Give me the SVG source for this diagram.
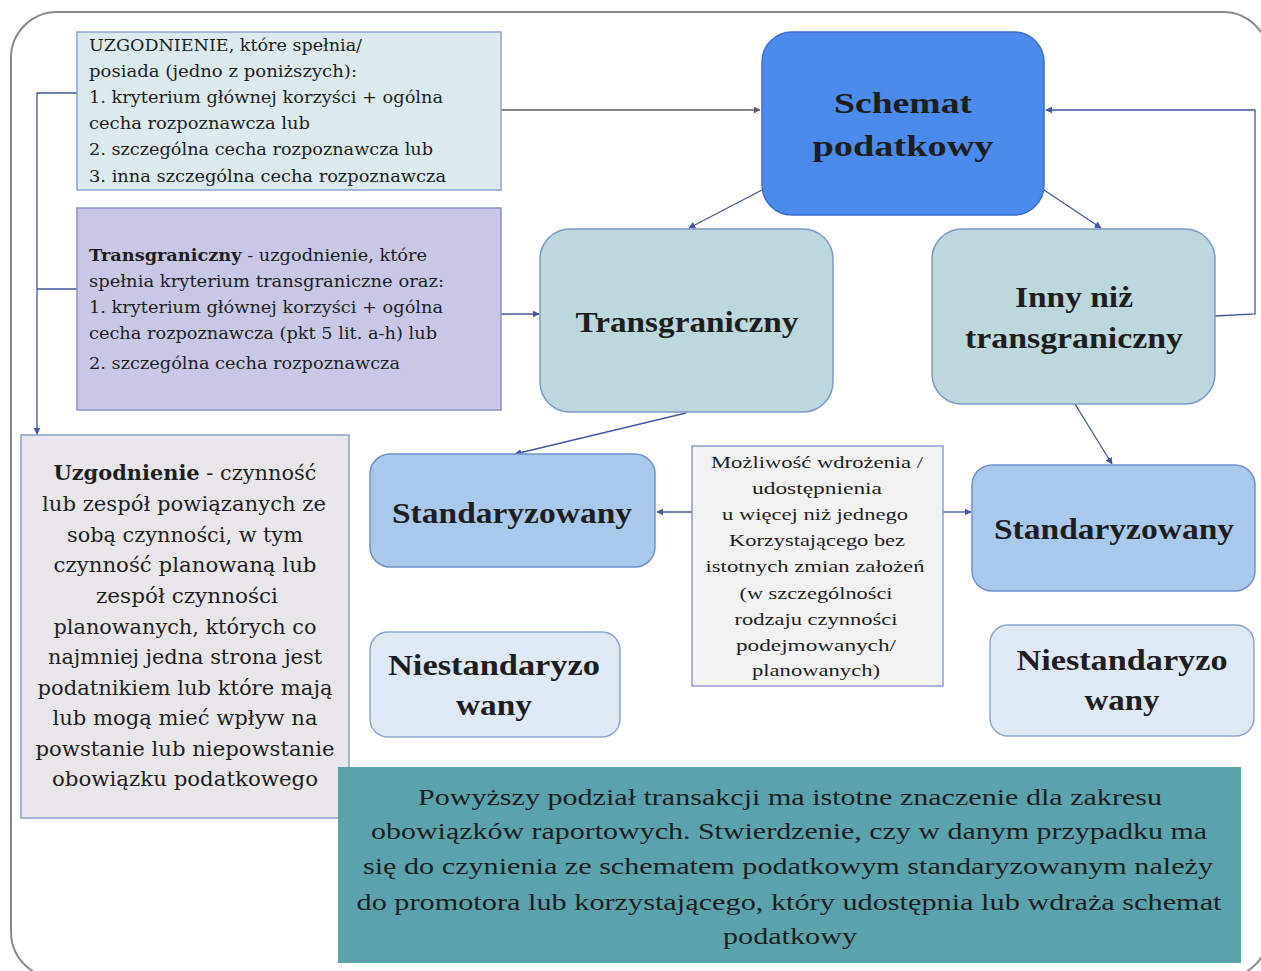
<svg xmlns="http://www.w3.org/2000/svg" width="1261" height="971" viewBox="0 0 1261 971">
<defs>
<marker id="ah" viewBox="0 0 10 10" refX="9" refY="5" markerWidth="7" markerHeight="7" orient="auto" markerUnits="userSpaceOnUse"><path d="M0,0 L10,5 L0,10 z" fill="#4257a0"/></marker>
<marker id="ahg" viewBox="0 0 10 10" refX="9" refY="5" markerWidth="7" markerHeight="7" orient="auto" markerUnits="userSpaceOnUse"><path d="M0,0 L10,5 L0,10 z" fill="#5d5a6e"/></marker>
</defs>
<style>
text{font-family:"DejaVu Serif","Liberation Serif",serif;fill:#1e1e1e}
.s{font-size:16px}
.m{font-size:20px;text-anchor:middle}
.c{font-family:"Liberation Serif",serif;font-size:17px;text-anchor:middle}
.big{font-family:"Liberation Serif",serif;font-weight:bold;font-size:30px;text-anchor:middle}
.bot{font-family:"Liberation Serif",serif;font-size:24px;text-anchor:middle}
.ln{fill:none;stroke:#4257a0;stroke-width:1.3}
</style>
<rect x="11" y="12" width="1258" height="966" rx="46" fill="#fff" stroke="#8a8a8a" stroke-width="2"/>

<g id="connectors">
<path class="ln" d="M501,110 L760,110" style="stroke:#5d5a6e" marker-end="url(#ahg)"/>
<path class="ln" d="M77,93 L37,93 L37,434" marker-end="url(#ah)"/>
<path class="ln" d="M77,289 L37,289"/>
<path class="ln" d="M501,314 L539,314" marker-end="url(#ah)"/>
<path class="ln" d="M762,190 L689,228" marker-end="url(#ah)"/>
<path class="ln" d="M1044,190 L1101,228" marker-end="url(#ah)"/>
<path class="ln" d="M1215,316 L1255,314 L1255,110 L1046,110" marker-end="url(#ah)"/>
<path class="ln" d="M686,413 L515,454" marker-end="url(#ah)"/>
<path class="ln" d="M1075,404 L1112,464" marker-end="url(#ah)"/>
<path class="ln" d="M692,512 L657,512" marker-end="url(#ah)"/>
<path class="ln" d="M943,512 L971,512" marker-end="url(#ah)"/>
</g>

<g id="boxA">
<rect x="77" y="32" width="424" height="158" fill="#dce9ed" stroke="#8fa3cd" stroke-width="1.5"/>
<text class="s" x="89" y="51" textLength="273" lengthAdjust="spacingAndGlyphs">UZGODNIENIE, które spełnia/</text>
<text class="s" x="89" y="77" textLength="268" lengthAdjust="spacingAndGlyphs">posiada (jedno z poniższych):</text>
<text class="s" x="89" y="103" textLength="354" lengthAdjust="spacingAndGlyphs">1. kryterium głównej korzyści + ogólna</text>
<text class="s" x="89" y="129" textLength="221" lengthAdjust="spacingAndGlyphs">cecha rozpoznawcza lub</text>
<text class="s" x="89" y="155" textLength="344" lengthAdjust="spacingAndGlyphs">2. szczególna cecha rozpoznawcza lub</text>
<text class="s" x="89" y="182" textLength="357" lengthAdjust="spacingAndGlyphs">3. inna szczególna cecha rozpoznawcza</text>
</g>

<g id="boxB">
<rect x="77" y="208" width="424" height="202" fill="#c8c8e6" stroke="#8a93c0" stroke-width="1.5"/>
<text class="s" x="89" y="261" textLength="338" lengthAdjust="spacingAndGlyphs"><tspan font-weight="bold">Transgraniczny</tspan> - uzgodnienie, które</text>
<text class="s" x="89" y="287" textLength="355" lengthAdjust="spacingAndGlyphs">spełnia kryterium transgraniczne oraz:</text>
<text class="s" x="89" y="313" textLength="354" lengthAdjust="spacingAndGlyphs">1. kryterium głównej korzyści + ogólna</text>
<text class="s" x="89" y="339" textLength="348" lengthAdjust="spacingAndGlyphs">cecha rozpoznawcza (pkt 5 lit. a-h) lub</text>
<text class="s" x="89" y="369" textLength="311" lengthAdjust="spacingAndGlyphs">2. szczególna cecha rozpoznawcza</text>
</g>

<g id="schemat">
<rect x="762" y="32" width="282" height="183" rx="30" fill="#4a8bec" stroke="#3b6fc9" stroke-width="1.5"/>
<text class="big" x="903" y="113" font-size="32" textLength="138" lengthAdjust="spacingAndGlyphs">Schemat</text>
<text class="big" x="903" y="156" font-size="32" textLength="181" lengthAdjust="spacingAndGlyphs">podatkowy</text>
</g>

<g id="transgraniczny">
<rect x="540" y="229" width="293" height="183" rx="30" fill="#bcd8dc" stroke="#7d98c6" stroke-width="1.5"/>
<text class="big" x="687" y="332" textLength="223" lengthAdjust="spacingAndGlyphs">Transgraniczny</text>
</g>

<g id="inny">
<rect x="932" y="229" width="283" height="175" rx="30" fill="#bcd8dc" stroke="#7d98c6" stroke-width="1.5"/>
<text class="big" x="1074" y="307" textLength="118" lengthAdjust="spacingAndGlyphs">Inny niż</text>
<text class="big" x="1074" y="348" textLength="218" lengthAdjust="spacingAndGlyphs">transgraniczny</text>
</g>

<g id="stdLeft">
<rect x="370" y="454" width="285" height="113" rx="20" fill="#a9c9ec" stroke="#7090cc" stroke-width="1.5"/>
<text class="big" x="512" y="523" textLength="240" lengthAdjust="spacingAndGlyphs">Standaryzowany</text>
</g>

<g id="stdRight">
<rect x="972" y="465" width="283" height="126" rx="20" fill="#a9c9ec" stroke="#7090cc" stroke-width="1.5"/>
<text class="big" x="1114" y="539" textLength="240" lengthAdjust="spacingAndGlyphs">Standaryzowany</text>
</g>

<g id="niestdLeft">
<rect x="370" y="632" width="250" height="105" rx="18" fill="#dfe8f5" stroke="#8fa5d0" stroke-width="1.5"/>
<text class="big" x="494" y="675" textLength="212" lengthAdjust="spacingAndGlyphs">Niestandaryzo</text>
<text class="big" x="494" y="715" textLength="76" lengthAdjust="spacingAndGlyphs">wany</text>
</g>

<g id="niestdRight">
<rect x="990" y="625" width="264" height="111" rx="18" fill="#dfe8f5" stroke="#8fa5d0" stroke-width="1.5"/>
<text class="big" x="1122" y="670" textLength="211" lengthAdjust="spacingAndGlyphs">Niestandaryzo</text>
<text class="big" x="1122" y="710" textLength="75" lengthAdjust="spacingAndGlyphs">wany</text>
</g>

<g id="mozliwosc">
<rect x="692" y="446" width="251" height="240" fill="#f2f2f2" stroke="#8c9ccc" stroke-width="1.5"/>
<text class="c" x="817" y="468" textLength="212" lengthAdjust="spacingAndGlyphs">Możliwość wdrożenia /</text>
<text class="c" x="817" y="494" textLength="130" lengthAdjust="spacingAndGlyphs">udostępnienia</text>
<text class="c" x="815" y="520" textLength="186" lengthAdjust="spacingAndGlyphs">u więcej niż jednego</text>
<text class="c" x="817" y="546" textLength="176" lengthAdjust="spacingAndGlyphs">Korzystającego bez</text>
<text class="c" x="815" y="572" textLength="219" lengthAdjust="spacingAndGlyphs">istotnych zmian założeń</text>
<text class="c" x="816" y="599" textLength="153" lengthAdjust="spacingAndGlyphs">(w szczególności</text>
<text class="c" x="816" y="625" textLength="163" lengthAdjust="spacingAndGlyphs">rodzaju czynności</text>
<text class="c" x="816" y="651" textLength="160" lengthAdjust="spacingAndGlyphs">podejmowanych/</text>
<text class="c" x="816" y="676" textLength="128" lengthAdjust="spacingAndGlyphs">planowanych)</text>
</g>

<g id="uzgodnienie">
<rect x="21" y="435" width="328" height="383" fill="#e9e6ea" stroke="#8c9ccc" stroke-width="1.5"/>
<text class="m" x="185" y="480" textLength="263" lengthAdjust="spacingAndGlyphs"><tspan font-weight="bold">Uzgodnienie</tspan> - czynność</text>
<text class="m" x="184" y="511" textLength="284" lengthAdjust="spacingAndGlyphs">lub zespół powiązanych ze</text>
<text class="m" x="185" y="542" textLength="236" lengthAdjust="spacingAndGlyphs">sobą czynności, w tym</text>
<text class="m" x="185" y="572" textLength="263" lengthAdjust="spacingAndGlyphs">czynność planowaną lub</text>
<text class="m" x="187" y="603" textLength="182" lengthAdjust="spacingAndGlyphs">zespół czynności</text>
<text class="m" x="185" y="634" textLength="263" lengthAdjust="spacingAndGlyphs">planowanych, których co</text>
<text class="m" x="185" y="664" textLength="274" lengthAdjust="spacingAndGlyphs">najmniej jedna strona jest</text>
<text class="m" x="185" y="695" textLength="295" lengthAdjust="spacingAndGlyphs">podatnikiem lub które mają</text>
<text class="m" x="185" y="725" textLength="265" lengthAdjust="spacingAndGlyphs">lub mogą mieć wpływ na</text>
<text class="m" x="185" y="756" textLength="299" lengthAdjust="spacingAndGlyphs">powstanie lub niepowstanie</text>
<text class="m" x="185" y="786" textLength="266" lengthAdjust="spacingAndGlyphs">obowiązku podatkowego</text>
</g>

<g id="podsumowanie">
<rect x="338" y="767" width="903" height="196" fill="#5aa3ad"/>
<text class="bot" x="790" y="805" textLength="744" lengthAdjust="spacingAndGlyphs">Powyższy podział transakcji ma istotne znaczenie dla zakresu</text>
<text class="bot" x="789" y="839" textLength="836" lengthAdjust="spacingAndGlyphs">obowiązków raportowych. Stwierdzenie, czy w danym przypadku ma</text>
<text class="bot" x="788" y="874" textLength="850" lengthAdjust="spacingAndGlyphs">się do czynienia ze schematem podatkowym standaryzowanym należy</text>
<text class="bot" x="789" y="910" textLength="865" lengthAdjust="spacingAndGlyphs">do promotora lub korzystającego, który udostępnia lub wdraża schemat</text>
<text class="bot" x="790" y="944" textLength="134" lengthAdjust="spacingAndGlyphs">podatkowy</text>
</g>
</svg>
